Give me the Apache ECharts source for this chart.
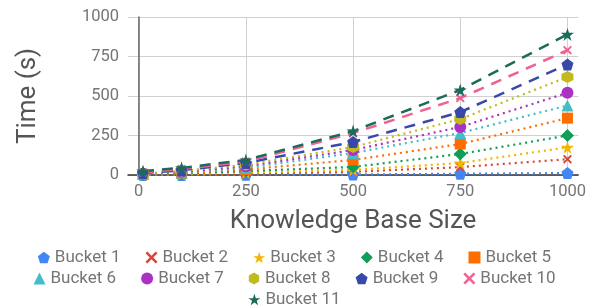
<!DOCTYPE html>
<html>
<head>
<meta charset="utf-8">
<title>Time vs Knowledge Base Size</title>
<script src="https://cdn.jsdelivr.net/npm/echarts@6/dist/echarts.min.js"></script>
<style>
html, body { margin: 0; padding: 0; background: #fff; }
#container { width: 589px; height: 307px; }
</style>
</head>
<body>
<div id="container"></div>
<script type="text/javascript">
// data
var kbSizes = [10, 100, 250, 500, 750, 1000];
var xTicks = [0, 250, 500, 750, 1000];
var bucketNames = ['Bucket 1', 'Bucket 2', 'Bucket 3', 'Bucket 4', 'Bucket 5', 'Bucket 6',
	'Bucket 7', 'Bucket 8', 'Bucket 9', 'Bucket 10', 'Bucket 11'];
var bucket1 = [0, 0, 1, 3, 8, 12];
var bucket2 = [1, 3, 8, 20, 50, 100];
var bucket3 = [2, 6, 15, 32, 76, 175];
var bucket4 = [3, 9, 25, 51, 133, 250];
var bucket5 = [4, 12, 35, 95, 196, 360];
var bucket6 = [6, 16, 45, 139, 266, 440];
var bucket7 = [8, 20, 55, 158, 304, 520];
var bucket8 = [10, 25, 65, 177, 354, 620];
var bucket9 = [12, 30, 76, 209, 398, 700];
var bucket10 = [15, 38, 85, 265, 487, 790];
var bucket11 = [25, 45, 95, 278, 538, 890];
var allBuckets = [bucket1, bucket2, bucket3, bucket4, bucket5, bucket6,
	bucket7, bucket8, bucket9, bucket10, bucket11];

// marker shapes
var PENTAGON = 'path://M50,0L97.6,34.5L79.4,90.5L20.6,90.5L2.4,34.5Z';
var STAR = 'path://M50,0L61.2,34.5L97.6,34.5L68.2,55.9L79.4,90.5L50,69.1L20.6,90.5L31.8,55.9L2.4,34.5L38.8,34.5Z';
var HEXAGON = 'path://M50,0L93.3,25L93.3,75L50,100L6.7,75L6.7,25Z';
var CROSS = 'path://M0,15L15,0L50,35L85,0L100,15L65,50L100,85L85,100L50,65L15,100L0,85L35,50Z';

var colors = ['#4285f4', '#db4437', '#f4b400', '#0f9d58', '#ff6d00', '#46bdc6',
	'#ab30c4', '#c0ba1e', '#3949ab', '#f06292', '#1b6b5a'];
var symbols = [PENTAGON, CROSS, STAR, 'diamond', 'rect', 'triangle',
	'circle', HEXAGON, PENTAGON, CROSS, STAR];
var symSizes = [12, 9, 13, 13, 11, 12, 12, 12, 12, 9, 13];

var font = 'Roboto, "Noto Sans", sans-serif';

var series = [];
for (var i = 0; i < bucketNames.length; i++) {
	var pts = [];
	for (var j = 0; j < kbSizes.length; j++) {
		pts.push([kbSizes[j], allBuckets[i][j]]);
	}
	var dashed = i >= 8;
	series.push({
		name: bucketNames[i],
		type: 'line',
		data: pts,
		symbol: symbols[i],
		symbolSize: symSizes[i],
		showAllSymbol: true,
		color: colors[i],
		lineStyle: {
			width: dashed ? 2.5 : 2.2,
			type: dashed ? [11, 8] : [2, 4]
		},
		itemStyle: { color: colors[i], borderWidth: 0 },
		emphasis: { disabled: true },
		animation: false
	});
}

var legendText = { color: '#757575', fontSize: 17, fontFamily: font };

// one legend per row so rows sit close together and each is centred
function legendRow(from, to, top) {
	var d = [];
	for (var i = from; i < to; i++) {
		d.push({ name: bucketNames[i], icon: symbols[i] });
	}
	return {
		data: d,
		top: top,
		left: 'center',
		itemWidth: 12,
		itemHeight: 12,
		itemGap: 25,
		textStyle: legendText
	};
}

function plainNum(v) { return String(v); }

var option = {
	backgroundColor: '#fff',
	animation: false,
	textStyle: { fontFamily: font },
	grid: { left: 128, right: 9, top: 17, bottom: 132, containLabel: false },
	legend: [legendRow(0, 5, 244), legendRow(5, 10, 265), legendRow(10, 11, 286)],
	xAxis: {
		type: 'value',
		min: -25,
		max: 1025,
		name: 'Knowledge Base Size',
		nameLocation: 'middle',
		nameGap: 33,
		nameTextStyle: { color: '#555', fontSize: 26, fontFamily: font },
		axisLine: { show: true, onZero: true, lineStyle: { color: '#333', width: 1.5 } },
		axisTick: { show: false, customValues: xTicks },
		axisLabel: { customValues: xTicks, formatter: plainNum, color: '#757575', fontSize: 16.5, margin: 8, fontFamily: font },
		splitLine: { show: true, lineStyle: { color: '#d0d0d0', width: 1 } }
	},
	yAxis: {
		type: 'value',
		min: 0,
		max: 1000,
		interval: 250,
		name: 'Time (s)',
		nameLocation: 'middle',
		nameGap: 87,
		nameTextStyle: { color: '#555', fontSize: 26, fontFamily: font },
		axisLine: { show: true, onZero: true, lineStyle: { color: '#666', width: 1.5 } },
		axisTick: { show: false },
		axisLabel: { formatter: plainNum, color: '#757575', fontSize: 16.5, margin: 9, fontFamily: font },
		splitLine: { show: true, lineStyle: { color: '#d0d0d0', width: 1 } }
	},
	series: series
};

var myChart = echarts.init(document.getElementById('container'), null, { renderer: 'canvas' });
myChart.setOption(option);
</script>
</body>
</html>
